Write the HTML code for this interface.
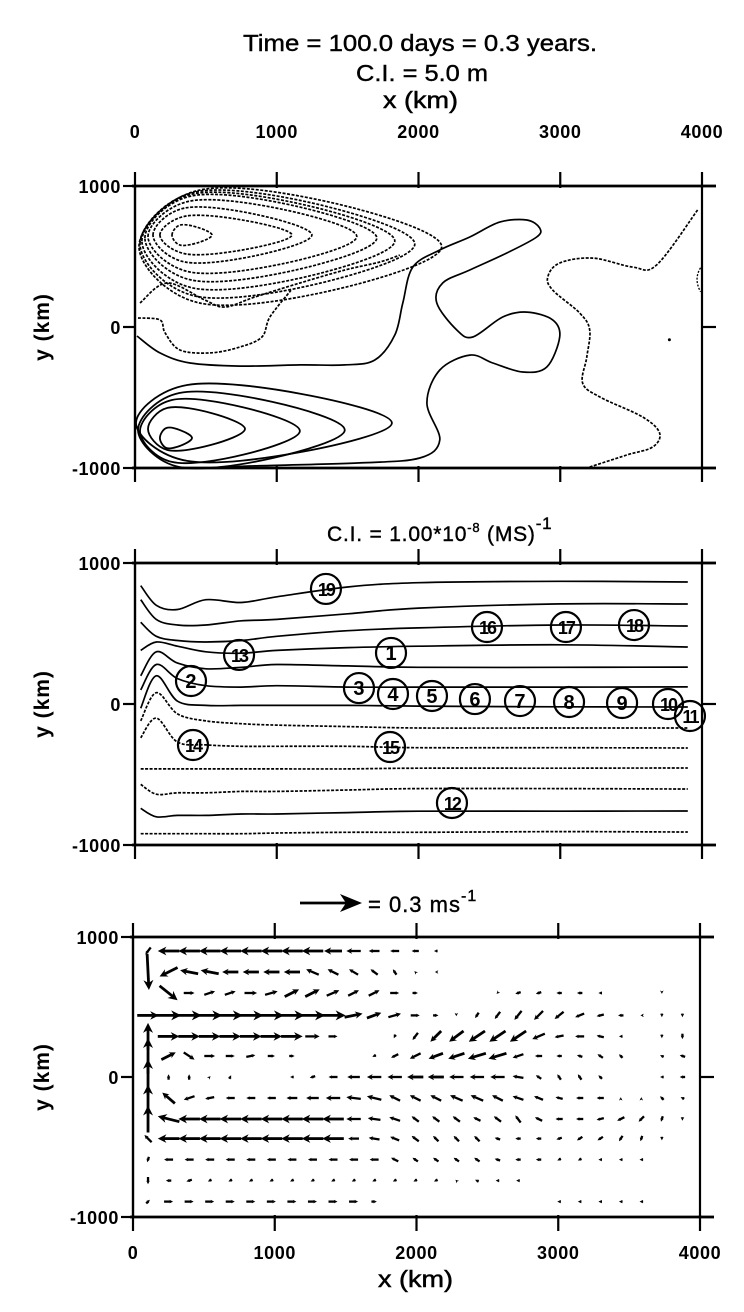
<!DOCTYPE html>
<html><head><meta charset="utf-8"><style>
html,body{margin:0;padding:0;background:#fff;}
svg{display:block;font-family:"Liberation Sans",sans-serif;}
text{fill:#000;}
</style></head><body>
<svg id="fig" width="744" height="1312" viewBox="0 0 744 1312" xmlns="http://www.w3.org/2000/svg">
<text x="243" y="51" font-size="23" textLength="354" lengthAdjust="spacingAndGlyphs" stroke="#000" stroke-width="0.4">Time = 100.0 days = 0.3 years.</text>
<text x="356" y="81" font-size="23" textLength="132" lengthAdjust="spacingAndGlyphs" stroke="#000" stroke-width="0.4">C.I. = 5.0 m</text>
<text x="383" y="108" font-size="23" textLength="75" lengthAdjust="spacingAndGlyphs" stroke="#000" stroke-width="0.5">x (km)</text>
<text x="327" y="541" font-size="21" stroke="#000" stroke-width="0.4" letter-spacing="0.8">C.I. = 1.00*10<tspan font-size="13" dy="-9">-8</tspan><tspan dy="9"> (MS)</tspan><tspan font-size="17" dy="-12">-1</tspan></text>
<g id="p1"></g>
<g id="p2"></g>
<g id="p3"></g>
<g>
<line x1="300" y1="903" x2="346" y2="903" stroke="#000" stroke-width="2.8"/>
<polygon points="340,894 362,903 340,912 346,903" fill="#000"/>
<text x="368" y="912" font-size="22" stroke="#000" stroke-width="0.4" letter-spacing="1">= 0.3 ms<tspan font-size="16" dy="-11">-1</tspan></text>
</g>
<text x="378" y="1287" font-size="23" textLength="75" lengthAdjust="spacingAndGlyphs" stroke="#000" stroke-width="0.5">x (km)</text>
</svg>
<script>
// ---------- data ----------
const xTicks = [0, 1000, 2000, 3000, 4000];
const xTickLabels = ["0", "1000", "2000", "3000", "4000"];
const yTicks = [1000, 0, -1000];
const yTickLabels = ["1000", "0", "-1000"];

// Panel 1: upper (dashed) gyre loops [xLeft, xRight, yTop, yBottom] km
const upperLoops = [[261,543,723,581],[176,1107,787,518],[127,1248,844,461],[92,1565,893,390],[70,1706,929,333],[49,1833,943,277],[35,1974,957,220],[28,2164,971,170]];
// lower (solid) gyre loops
const lowerLoops = [[176,402,-716,-858],[92,776,-574,-872],[35,1163,-518,-957],[21,1480,-468,-993],[7,1812,-411,-950]];
const solidContourX = [14,176,388,740,1163,1481,1692,1833,1889,1960,2150,2362,2573,2764,2855,2834,2623,2362,2171,2129,2270,2383,2594,2764,2947,2996,2905,2735,2524,2362,2150,2059,2150,2009,1586,811,529];
const solidContourY = [-64,-184,-255,-277,-269,-269,-234,-57,170,425,546,638,744,759,702,638,525,404,312,170,-21,-71,71,106,50,-71,-284,-319,-255,-199,-305,-539,-801,-929,-964,-986,-1000];
const dashedRightX = [3969,3680,3511,3229,2996,2912,2947,3137,3208,3187,3158,3278,3581,3701,3652,3469,3208];
const dashedRightY = [830,440,425,489,454,355,262,99,-21,-213,-397,-496,-638,-752,-851,-908,-993];
const dashedMidX = [35,226,494,635,846,1163,1481,1727,1868];
const dashedMidY = [170,312,191,142,213,312,404,461,510];
const dashedLowX = [21,176,212,317,529,740,895,952,1100];
const dashedLowY = [64,50,-42,-163,-184,-142,-71,71,260];

// Panel 2: PV contour lines sampled at lineX (km)
const lineX = [40,150,300,500,750,1000,1500,2000,3000,3900];
const pvLines = [
 [840,700,670,740,720,760,830,860,870,865],
 [740,600,560,560,590,600,640,680,710,709],
 [580,480,450,440,450,480,520,540,560,553],
 [380,440,410,370,360,380,400,410,420,404],
 [200,370,290,250,260,280,270,260,260,262],
 [100,280,180,130,120,130,120,120,120,121],
 [-30,200,20,-10,-10,-10,-10,-15,-20,-21],
 [-120,80,-70,-120,-140,-150,-160,-170,-170,-170],
 [-240,-100,-270,-290,-300,-300,-300,-310,-310,-312],
 [-460,-460,-460,-460,-460,-460,-460,-455,-455,-454],
 [-570,-640,-630,-630,-620,-620,-610,-600,-600,-603],
 [-740,-800,-790,-790,-780,-780,-770,-760,-760,-759],
 [-920,-920,-920,-920,-920,-915,-910,-910,-905,-908]
];
const pvDashed = [0,0,0,0,0,0,0,1,1,1,1,0,1];
const floatLabels = ["19","16","17","18","13","1","2","3","4","5","6","7","8","9","10","11","14","15","12"];
const floatX = [1347,2483,3040,3520,734,1806,395,1580,1820,2095,2398,2716,3062,3436,3760,3915,409,1799,2236];
const floatY = [816,546,546,560,348,362,163,113,71,57,35,21,14,7,0,-85,-291,-305,-702];

// Panel 3: velocity vectors (cm/s), rows at rowY km, columns from colX0 step colDX
const rowY = [900,750,600,440,290,150,0,-150,-300,-440,-590,-740,-890];
const colX0 = 106, colDX = 145;
const U = [
 [-3,-12,-12,-12,-12,-12,-12,-12,-12,-10,-8,-6,-5,-4,-2,0,0,0,0,0,0,0,0,0,0,0,0],
 [1,-10,-10,-10,-9,-9,-9,-9,-7,-6,-5,-4,-2,-1,-1,0,0,0,0,0,0,0,0,0,0,0,0],
 [0,10,6,6,6,7,7,8,8,7,6,6,5,3,0,0,0,-1,-3,-3,-3,-3,-2,0,0,0,0],
 [12,14,14,14,14,14,14,14,14,14,10,8,7,5,3,0,-2,-3,-4,-5,-5,-5,-4,-3,-1,0,0],
 [0,12,12,12,12,12,12,12,8,5,0,0,-1,-3,-6,-8,-9,-9,-9,-7,-5,-5,-4,-2,0,0,0],
 [0,8,6,6,5,5,4,3,0,0,0,-2,-4,-6,-8,-9,-10,-10,-6,-4,-3,-3,-3,-2,0,-2,-3],
 [0,0,0,1,1,0,0,-2,-3,-5,-7,-8,-8,-9,-9,-8,-8,-8,-6,-3,-2,-2,-2,0,0,-2,-3],
 [0,-7,-6,-5,-5,-5,-5,-6,-7,-8,-8,-8,-6,-6,-6,-7,-7,-6,-6,-5,-4,-4,-4,0,0,-2,-2],
 [0,-12,-12,-12,-12,-12,-12,-12,-12,-12,-8,-7,-6,-4,-4,-4,-4,-4,-3,-4,-4,-4,-4,-4,-3,-1,0],
 [-4,-12,-12,-12,-12,-12,-12,-12,-12,-12,-6,-6,-5,-4,-3,-3,-3,-3,-3,-3,-3,-3,-3,-2,-1,0,0],
 [-1,-5,-5,-5,-5,-5,-5,-5,-5,-5,-5,-5,-4,-3,-3,-3,-3,-3,-3,-3,-2,-2,-2,-2,-2,0,0],
 [0,-3,-3,-2,-2,-2,-2,-2,-2,-2,-2,-2,-2,-2,-2,-1,-2,-2,-2,0,0,0,0,0,0,0,0],
 [2,5,5,5,5,5,5,5,5,5,5,3,0,0,0,0,0,0,0,0,-2,-2,-2,-2,-2,0,0]
];
const V = [
 [-4,0,0,0,0,0,0,0,0,0,0,0,0,0,0,0,0,0,0,0,0,0,0,0,0,0,0],
 [-20,-5,2,2,0,0,0,0,3,3,3,3,3,1,0,0,0,0,0,0,0,0,0,0,0,0,0],
 [0,-8,0,2,2,0,2,4,4,3,3,3,0,0,0,0,0,-1,-1,-1,0,0,0,0,0,-1,0],
 [0,0,0,0,0,0,0,0,0,0,2,3,2,0,0,-1,-3,-4,-5,-5,-4,-2,-1,0,0,-2,-2],
 [15,0,0,0,0,0,0,0,0,0,0,0,-2,-4,-6,-6,-6,-6,-6,-3,-1,0,1,0,0,-2,-3],
 [20,4,-4,0,0,1,0,0,0,0,0,-1,-2,-3,-3,-3,-3,-3,-2,0,0,1,2,2,0,1,1],
 [20,3,3,1,2,0,0,0,-1,0,0,0,0,0,0,0,0,0,1,2,3,3,2,0,0,0,0],
 [15,6,-2,-1,0,0,0,0,0,0,1,2,3,3,3,3,3,3,2,2,1,0,0,1,1,2,1],
 [15,3,0,0,0,0,0,0,0,0,0,1,2,3,3,3,2,3,4,2,0,0,-1,-2,-3,-3,-2],
 [4,0,0,0,0,0,0,0,0,0,0,1,2,3,3,3,3,1,0,0,-1,-2,-2,-3,-3,-2,0],
 [-3,0,0,0,0,0,0,0,0,0,0,0,2,2,2,2,2,1,0,0,-1,-1,0,0,0,0,0],
 [-4,0,-1,-1,-1,-1,-1,-1,-1,-1,-1,-1,-1,-1,-1,1,1,0,0,0,0,0,0,0,0,0,0],
 [2,0,0,0,0,0,0,0,0,0,0,0,0,0,0,0,0,0,0,0,0,0,0,0,0,0,0]
];
const pxPerCm = 1.8;

// ---------- helpers ----------
const NS = "http://www.w3.org/2000/svg";
function mk(tag, attrs, parent){ const e=document.createElementNS(NS,tag); for(const k in attrs) e.setAttribute(k,attrs[k]); parent.appendChild(e); return e; }
function axes(x0,x1,yT,yB){ return { sx: v => x0 + (v/4000)*(x1-x0), sy: v => yT + (1000-v)/2000*(yB-yT) }; }
function smooth(pts, closed){
  const n=pts.length; if(n<2) return "";
  let d="M"+pts[0][0].toFixed(1)+","+pts[0][1].toFixed(1);
  const get=i=> closed ? pts[(i+n)%n] : pts[Math.max(0,Math.min(n-1,i))];
  const segs = closed ? n : n-1;
  for(let i=0;i<segs;i++){
    const p0=get(i-1),p1=get(i),p2=get(i+1),p3=get(i+2);
    const c1=[p1[0]+(p2[0]-p0[0])/6,p1[1]+(p2[1]-p0[1])/6];
    const c2=[p2[0]-(p3[0]-p1[0])/6,p2[1]-(p3[1]-p1[1])/6];
    d+="C"+c1[0].toFixed(1)+","+c1[1].toFixed(1)+" "+c2[0].toFixed(1)+","+c2[1].toFixed(1)+" "+p2[0].toFixed(1)+","+p2[1].toFixed(1);
  }
  return d+(closed?"Z":"");
}
function label(g,x,y,txt,anchor){
  const t=mk("text",{x:x,y:y,"font-size":18,"font-weight":"bold","text-anchor":anchor,"letter-spacing":"0.6"},g);
  t.textContent=txt; return t;
}
function frame(g,x0,x1,yT,yB,ax,topLabels,bottomLabels,name){
  const fr = mk("g",{},g);
  
  
  mk("line",{x1:x0-3,y1:yT,x2:x1+14,y2:yT,stroke:"#000","stroke-width":2.8},fr);
  mk("line",{x1:x0-3,y1:yB,x2:x1+14,y2:yB,stroke:"#000","stroke-width":2.8},fr);
  mk("line",{x1:x0,y1:yT,x2:x0,y2:yB,stroke:"#000","stroke-width":2.4},fr);
  mk("line",{x1:x1,y1:yT,x2:x1,y2:yB,stroke:"#000","stroke-width":2.2},fr);
  xTicks.forEach((t,i)=>{
    const x=ax.sx(t);
    const tk=mk("line",{x1:x,y1:yT-14,x2:x,y2:yT+2,stroke:"#000","stroke-width":2.2},fr);
    
    const tb=mk("line",{x1:x,y1:yB-2,x2:x,y2:yB+14,stroke:"#000","stroke-width":2.2},fr);
    
    if(topLabels){ const tx=label(g,x,138,xTickLabels[i],"middle");
        }
    if(bottomLabels){ const tx=label(g,x,1259,xTickLabels[i],"middle");
        }
  });
  yTicks.forEach((t,i)=>{
    const y=ax.sy(t);
    mk("line",{x1:x0-12,y1:y,x2:x0,y2:y,stroke:"#000","stroke-width":2.2},fr);
    mk("line",{x1:x1,y1:y,x2:x1+14,y2:y,stroke:"#000","stroke-width":2.2},fr);
    const tx=label(g,x0-14,y+7,yTickLabels[i],"end");
     
  });
  const yl=mk("text",{x:0,y:0,"font-size":21,"font-weight":"bold","text-anchor":"middle","letter-spacing":"1",transform:`translate(49,${(yT+yB)/2}) rotate(-90)`},g);
  yl.textContent="y (km)";
   
}
function egg(l){ const [xL,xR,yT,yB]=l, w=xR-xL, h=yT-yB, ym=(yT+yB)/2;
  return [[xL,ym],[xL+0.2*w,yT],[xL+0.65*w,yT-0.12*h],[xR,ym],[xL+0.65*w,yB+0.12*h],[xL+0.2*w,yB]]; }

// ---------- panel 1 ----------
(function(){
  const g=document.getElementById("p1"); const x0=135,x1=702,yT=186,yB=468; const ax=axes(x0,x1,yT,yB);
  const P=p=>[ax.sx(p[0]),ax.sy(p[1])];
  upperLoops.forEach(l=>{
    const p=mk("path",{d:smooth(egg(l).map(P),true),fill:"none",stroke:"#000","stroke-width":1.7,"stroke-dasharray":"3,1.5"},g);
    
    
  });
  lowerLoops.forEach(l=>{
    const p=mk("path",{d:smooth(egg(l).map(P),true),fill:"none",stroke:"#000","stroke-width":1.8},g);
    
    
  });
  const lines=[[solidContourX,solidContourY,false,'wavy-solid-contour'],[dashedRightX,dashedRightY,true,'east-dashed-contour'],[dashedMidX,dashedMidY,true,'mid-dashed-contour'],[dashedLowX,dashedLowY,true,'low-dashed-contour']];
  lines.forEach(([xs,ys,dash,nm])=>{
    const pts=xs.map((x,i)=>P([x,ys[i]]));
    const a={d:smooth(pts,false),fill:"none",stroke:"#000","stroke-width":1.7}; if(dash) a["stroke-dasharray"]="3,1.5";
    const p=mk("path",a,g);
    
    
  });
  mk("path",{d:`M${ax.sx(3990)},${ax.sy(420)} Q${ax.sx(3940)},${ax.sy(340)} ${ax.sx(3990)},${ax.sy(250)}`,fill:"none",stroke:"#000","stroke-width":1.3,"stroke-dasharray":"2,1.5"},g);
  mk("circle",{cx:ax.sx(3770),cy:ax.sy(-90),r:1.5,fill:"#000"},g);
  frame(g,x0,x1,yT,yB,ax,true,false,'panel1');
})();

// ---------- panel 2 ----------
(function(){
  const g=document.getElementById("p2"); const x0=135,x1=702,yT=563,yB=845; const ax=axes(x0,x1,yT,yB);
  pvLines.forEach((ys,j)=>{
    const pts=lineX.map((x,i)=>[ax.sx(x),ax.sy(ys[i])]);
    const a={d:smooth(pts,false),fill:"none",stroke:"#000","stroke-width":1.7}; if(pvDashed[j]) a["stroke-dasharray"]="3,1.5";
    const p=mk("path",a,g);
    
    
  });
  floatLabels.forEach((lab,i)=>{
    const cx=ax.sx(floatX[i]), cy=ax.sy(floatY[i]);
    const gg=mk("g",{},g);
    
    
    mk("circle",{cx:cx,cy:cy,r:15,fill:"none",stroke:"#000","stroke-width":2.2},gg);
    const t=mk("text",{x:cx,y:cy+7,"font-size":lab.length>1?18:20,"font-weight":"bold","text-anchor":"middle","letter-spacing":lab.length>1?"-2":"0"},gg);
    t.textContent=lab;
  });
  frame(g,x0,x1,yT,yB,ax,false,false,'panel2');
})();

// ---------- panel 3 ----------
(function(){
  const g=document.getElementById("p3"); const x0=133,x1=700,yT=937,yB=1217; const ax=axes(x0,x1,yT,yB);
  rowY.forEach((yk,r)=>{
    U[r].forEach((u,c)=>{
      const v=V[r][c]; const len=Math.hypot(u,v)*pxPerCm; if(len<0.5) return;
      const cx=ax.sx(colX0+c*colDX), cy=ax.sy(yk);
      const dx=u*pxPerCm, dy=-v*pxPerCm;
      const tx=cx-dx/2, ty=cy-dy/2, hx=cx+dx/2, hy=cy+dy/2;
      const ux=dx/len, uy=dy/len;
      const hl=Math.min(10, Math.max(3.5, len*0.4)), hw=hl*0.5;
      const bx=hx-ux*hl*0.7, by=hy-uy*hl*0.7;
      const cbx=hx-ux*hl, cby=hy-uy*hl;
      const a=mk("g",{},g);
      
      
      mk("line",{x1:tx,y1:ty,x2:bx,y2:by,stroke:"#000","stroke-width":len>15?2.8:2.3},a);
      mk("polygon",{points:`${hx},${hy} ${cbx-uy*hw},${cby+ux*hw} ${bx},${by} ${cbx+uy*hw},${cby-ux*hw}`,fill:"#000"},a);
    });
  });
  frame(g,x0,x1,yT,yB,ax,false,true,'panel3');
})();
</script>
</body></html>
